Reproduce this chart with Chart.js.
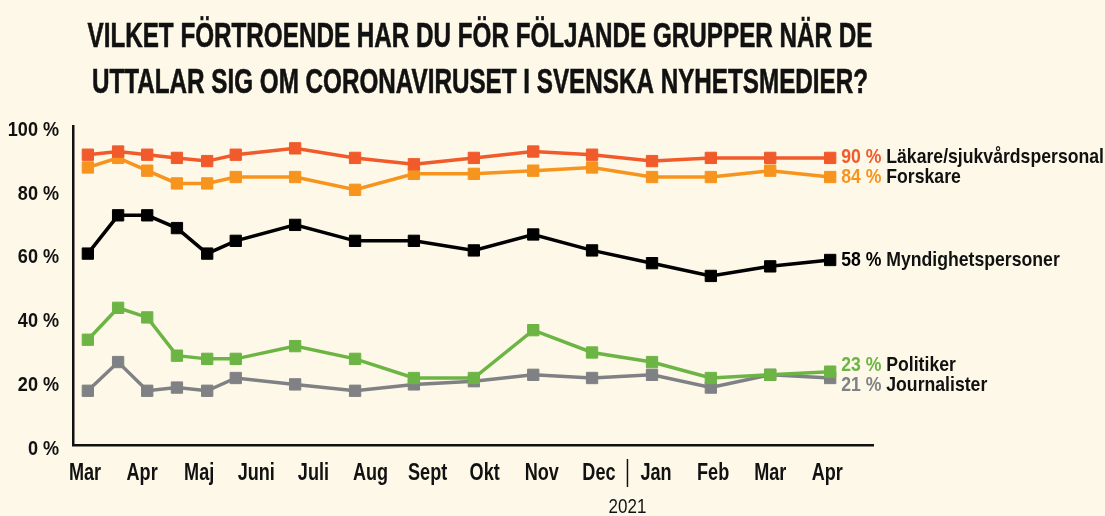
<!DOCTYPE html>
<html lang="sv">
<head>
<meta charset="utf-8">
<title>Förtroende för grupper</title>
<script src="https://cdn.jsdelivr.net/npm/chart.js@4.4.1/dist/chart.umd.min.js"></script>
<style>
    html, body { margin: 0; padding: 0; background: #fdf8e7; }
    #wrap { position: relative; width: 1105px; height: 516px; }
</style>
</head>
<body>
<div id="wrap"><canvas id="trustChart" width="1105" height="516"></canvas></div>
<script>
// Rubrik
const titleLines = [
    'VILKET FÖRTROENDE HAR DU FÖR FÖLJANDE GRUPPER NÄR DE',
    'UTTALAR SIG OM CORONAVIRUSET I SVENSKA NYHETSMEDIER?'
];

// Månader på x-axeln (mars 2020 - april 2021)
const monthLabels = ['Mar', 'Apr', 'Maj', 'Juni', 'Juli', 'Aug', 'Sept', 'Okt', 'Nov', 'Dec', 'Jan', 'Feb', 'Mar', 'Apr'];
const yearLabel = '2021';
const yTicks = [0, 20, 40, 60, 80, 100];

// Mättillfällen, i månader räknat från mars 2020
const surveyPoints = [0.05, 0.58, 1.09, 1.61, 2.14, 2.64, 3.68, 4.73, 5.76, 6.81, 7.85, 8.88, 9.93, 10.96, 12.0, 13.05];

// Serier (procent)
const lakare       = [91, 92, 91, 90, 89, 91, 93, 90, 88, 90, 92, 91, 89, 90, 90, 90];
const forskare     = [87, 90, 86, 82, 82, 84, 84, 80, 85, 85, 86, 87, 84, 84, 86, 84];
const myndighet    = [60, 72, 72, 68, 60, 64, 69, 64, 64, 61, 66, 61, 57, 53, 56, 58];
const politiker    = [33, 43, 40, 28, 27, 27, 31, 27, 21, 21, 36, 29, 26, 21, 22, 23];
const journalister = [17, 26, 17, 18, 17, 21, 19, 17, 19, 20, 22, 21, 22, 18, 22, 21];

const FONT = '"Liberation Sans", Arial, sans-serif';
Chart.defaults.font.family = FONT;
Chart.defaults.color = '#111';

function toPoints(values) {
    return surveyPoints.map((x, i) => ({ x: x, y: values[i] }));
}

function series(label, values, color) {
    return {
        label: label,
        data: toPoints(values),
        borderColor: color,
        backgroundColor: color,
        pointBackgroundColor: color,
        pointBorderColor: color,
        borderWidth: 3.5,
        pointStyle: 'rect',
        pointRadius: 8,
        pointBorderWidth: 1,
        tension: 0
    };
}

// smal text: vanlig font, hoptryckt i x-led
function narrowText(ctx, text, x, y, font, color, align, sx) {
    ctx.save();
    ctx.font = font;
    ctx.fillStyle = color;
    ctx.textAlign = align;
    ctx.textBaseline = 'middle';
    ctx.translate(x, y);
    ctx.scale(sx, 1);
    ctx.fillText(text, 0, 0);
    ctx.restore();
}

// Rubrik, axeletiketter, årsmarkering och etiketter vid linjernas slut
const annotations = {
    id: 'annotations',
    afterDraw(chart) {
        const ctx = chart.ctx;
        const xs = chart.scales.x;
        const ys = chart.scales.y;

        // rubrik
        ctx.save();
        ctx.font = 'bold 35px ' + FONT;
        const sx = 785 / ctx.measureText(titleLines[0]).width;
        ctx.translate(480, 0);
        ctx.scale(sx, 1);
        ctx.fillStyle = '#111';
        ctx.strokeStyle = '#111';
        ctx.lineWidth = 0.6;
        ctx.textAlign = 'center';
        ctx.textBaseline = 'alphabetic';
        titleLines.forEach((line, i) => {
            ctx.fillText(line, 0, 47 + i * 46);
            ctx.strokeText(line, 0, 47 + i * 46);
        });
        ctx.restore();

        // y-axelns etiketter
        yTicks.forEach(v => {
            narrowText(ctx, v + ' %', ys.left + 59, ys.getPixelForValue(v) + 4,
                'bold 21px ' + FONT, '#111', 'right', 0.86);
        });

        // x-axelns etiketter
        monthLabels.forEach((m, i) => {
            narrowText(ctx, m, xs.getPixelForValue(i), xs.top + 29,
                'bold 23.5px ' + FONT, '#111', 'center', 0.77);
        });

        // skiljelinje mellan dec och jan + årtal
        const sep = xs.getPixelForValue(9.5);
        ctx.save();
        ctx.strokeStyle = '#111';
        ctx.lineWidth = 1.5;
        ctx.beginPath();
        ctx.moveTo(sep, 459);
        ctx.lineTo(sep, 487);
        ctx.stroke();
        ctx.restore();
        narrowText(ctx, yearLabel, sep, 507, '21px ' + FONT, '#111', 'center', 0.81);

        // etiketter till höger
        const items = chart.data.datasets.map((ds, i) => {
            const meta = chart.getDatasetMeta(i);
            const last = meta.data[meta.data.length - 1];
            return {
                x: last.x,
                y: last.y,
                color: ds.borderColor,
                valueText: ds.data[ds.data.length - 1].y + ' %',
                name: ds.label
            };
        }).sort((a, b) => a.y - b.y);

        const minGap = 20;
        for (let k = 1; k < items.length; k++) {
            const diff = items[k].y - items[k - 1].y;
            if (diff < minGap) {
                const push = (minGap - diff) / 2;
                items[k - 1].y -= push;
                items[k].y += push;
            }
        }

        const labelFont = 'bold 21px ' + FONT;
        const lsx = 0.84;
        ctx.save();
        ctx.font = labelFont;
        items.forEach(item => {
            const tx = item.x + 11;
            narrowText(ctx, item.valueText, tx, item.y, labelFont, item.color, 'left', lsx);
            ctx.font = labelFont;
            const w = ctx.measureText(item.valueText + ' ').width * lsx;
            narrowText(ctx, item.name, tx + w, item.y, labelFont, '#111', 'left', lsx);
        });
        ctx.restore();
    }
};

const trustChart = new Chart(
    document.getElementById('trustChart'),
    {
        type: 'line',
        data: {
            datasets: [
                series('Läkare/sjukvårdspersonal', lakare, '#f15a2b'),
                series('Forskare', forskare, '#f7941e'),
                series('Myndighetspersoner', myndighet, '#000000'),
                series('Politiker', politiker, '#6cb545'),
                series('Journalister', journalister, '#808184')
            ]
        },
        options: {
            responsive: false,
            animation: false,
            devicePixelRatio: 1,
            layout: {
                padding: { left: 0, right: 232, top: 126, bottom: 0 }
            },
            plugins: {
                legend: { display: false },
                tooltip: { enabled: false },
                title: { display: false }
            },
            scales: {
                x: {
                    type: 'linear',
                    min: -0.21,
                    max: 13.8,
                    grid: { display: false, drawTicks: false },
                    border: { display: true, color: '#111', width: 2.5 },
                    afterBuildTicks: scale => {
                        scale.ticks = monthLabels.map((_, i) => ({ value: i }));
                    },
                    afterFit: scale => {
                        scale.height = 71;
                        scale.paddingLeft = 0;
                        scale.paddingRight = 0;
                    },
                    ticks: { display: false }
                },
                y: {
                    min: 0,
                    max: 100,
                    grid: { display: false, drawTicks: false },
                    border: { display: true, color: '#111', width: 2.5 },
                    afterBuildTicks: scale => {
                        scale.ticks = yTicks.map(v => ({ value: v }));
                    },
                    afterFit: scale => {
                        scale.width = 73;
                        scale.paddingTop = 0;
                        scale.paddingBottom = 0;
                    },
                    ticks: { display: false }
                }
            }
        },
        plugins: [annotations]
    }
);
</script>
</body>
</html>
